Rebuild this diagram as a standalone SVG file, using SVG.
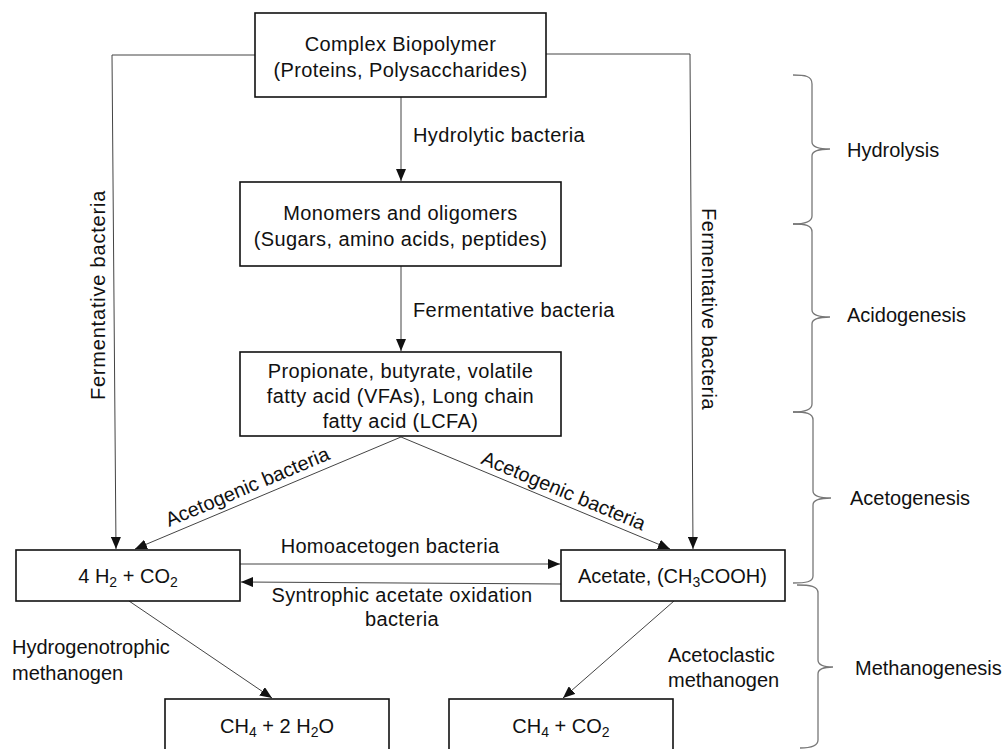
<svg xmlns="http://www.w3.org/2000/svg" width="1005" height="749" viewBox="0 0 1005 749">
<style>
text{font-family:"Liberation Sans",Arial,sans-serif;font-size:20px;fill:#111}
.box{fill:#fff;stroke:#111;stroke-width:1.6}
.sl{letter-spacing:0.4px}
.c{text-anchor:middle}
.ln{fill:none;stroke:#444;stroke-width:1}
.br{fill:none;stroke:#777;stroke-width:1.3}
</style>
<defs>
<marker id="ah" markerUnits="userSpaceOnUse" markerWidth="12" markerHeight="10" viewBox="0 0 12 10" refX="12" refY="5" orient="auto">
<path d="M0,0 L12,5 L0,10 Z" fill="#111"/>
</marker>
</defs>
<rect width="1005" height="749" fill="#fff"/>

<g id="connectors">
<line class="ln" x1="401" y1="97" x2="401" y2="181" marker-end="url(#ah)"/>
<line class="ln" x1="401" y1="266" x2="401" y2="351" marker-end="url(#ah)"/>
<polyline class="ln" points="255,55 112,55 116,549" marker-end="url(#ah)"/>
<polyline class="ln" points="546,54 690,54 693,549" marker-end="url(#ah)"/>
<line class="ln" x1="401" y1="437" x2="135" y2="549" marker-end="url(#ah)"/>
<line class="ln" x1="401" y1="437" x2="670" y2="549" marker-end="url(#ah)"/>
<line class="ln" x1="240" y1="564" x2="560" y2="564" marker-end="url(#ah)"/>
<line class="ln" x1="561" y1="584" x2="241" y2="582" marker-end="url(#ah)"/>
<line class="ln" x1="129" y1="601" x2="272" y2="698" marker-end="url(#ah)"/>
<line class="ln" x1="674" y1="601" x2="563" y2="698" marker-end="url(#ah)"/>
</g>

<g id="edge-labels">
<text class="sl" x="413" y="142">Hydrolytic bacteria</text>
<text class="sl" x="413" y="317">Fermentative bacteria</text>
<text class="c" transform="translate(105,295) rotate(-90)" style="letter-spacing:0.8px">Fermentative bacteria</text>
<text class="c" transform="translate(702,309) rotate(90)" style="letter-spacing:0.4px">Fermentative bacteria</text>
<text class="c" transform="translate(250,493) rotate(-22.8)">Acetogenic bacteria</text>
<text class="c" transform="translate(561,497) rotate(22.6)">Acetogenic bacteria</text>
<text class="c" x="390" y="553" style="letter-spacing:0.3px">Homoacetogen bacteria</text>
<text class="c" x="402" y="602" style="letter-spacing:0.35px">Syntrophic acetate oxidation</text>
<text class="c" x="402" y="626" style="letter-spacing:0.35px">bacteria</text>
<text x="12" y="654">Hydrogenotrophic</text>
<text x="12" y="680">methanogen</text>
<text x="668" y="662">Acetoclastic</text>
<text x="668" y="687">methanogen</text>
</g>

<g id="node-biopolymer">
<rect class="box" x="255" y="13" width="291" height="84"/>
<text class="c sl" x="400.5" y="51">Complex Biopolymer</text>
<text class="c sl" x="400.5" y="77">(Proteins, Polysaccharides)</text>
</g>
<g id="node-monomers">
<rect class="box" x="240" y="182" width="321" height="84"/>
<text class="c sl" x="400.5" y="220">Monomers and oligomers</text>
<text class="c sl" x="400.5" y="246">(Sugars, amino acids, peptides)</text>
</g>
<g id="node-vfa">
<rect class="box" x="240" y="352" width="321" height="84"/>
<text class="c sl" x="400.5" y="378">Propionate, butyrate, volatile</text>
<text class="c sl" x="400.5" y="403">fatty acid (VFAs), Long chain</text>
<text class="c sl" x="400.5" y="428">fatty acid (LCFA)</text>
</g>
<g id="node-h2co2">
<rect class="box" x="16" y="550" width="224" height="51"/>
<text class="c" x="128" y="583">4 H<tspan font-size="14" dy="4">2</tspan><tspan dy="-4"> + CO</tspan><tspan font-size="14" dy="4">2</tspan></text>
</g>
<g id="node-acetate">
<rect class="box" x="561" y="550" width="224" height="51"/>
<text class="c" x="672.5" y="583">Acetate, (CH<tspan font-size="14" dy="4">3</tspan><tspan dy="-4">COOH)</tspan></text>
</g>
<g id="node-ch4-h2o">
<rect class="box" x="165" y="699" width="224" height="70"/>
<text class="c" x="277" y="733">CH<tspan font-size="14" dy="4">4</tspan><tspan dy="-4"> + 2 H</tspan><tspan font-size="14" dy="4">2</tspan><tspan dy="-4">O</tspan></text>
</g>
<g id="node-ch4-co2">
<rect class="box" x="449" y="699" width="224" height="70"/>
<text class="c" x="561" y="733">CH<tspan font-size="14" dy="4">4</tspan><tspan dy="-4"> + CO</tspan><tspan font-size="14" dy="4">2</tspan></text>
</g>

<g id="stages">
<path class="br" d="M793,75 C805,75 812,76 812,84 L812,142 C812,147 818,149 830,149 C818,149 812,151 812,156 L812,216 C812,222 805,224 793,224"/>
<path class="br" d="M793,224 C805,224 812,225 812,232 L812,310 C812,315 818,317 830,317 C818,317 812,319 812,324 L812,404 C812,410 805,412 793,412"/>
<path class="br" d="M793,412 C806,412 813,413 813,420 L813,491 C813,496 819,498 831,498 C819,498 813,500 813,505 L813,576 C813,582 806,583 793,583"/>
<path class="br" d="M797,585 C810,585 818,586 818,593 L818,660 C818,665 823,667 833,667 C823,667 818,669 818,674 L818,740 C818,746 812,748 800,748"/>
<text x="847" y="157">Hydrolysis</text>
<text x="847" y="322">Acidogenesis</text>
<text x="850" y="505">Acetogenesis</text>
<text x="855" y="675">Methanogenesis</text>
</g>
</svg>
